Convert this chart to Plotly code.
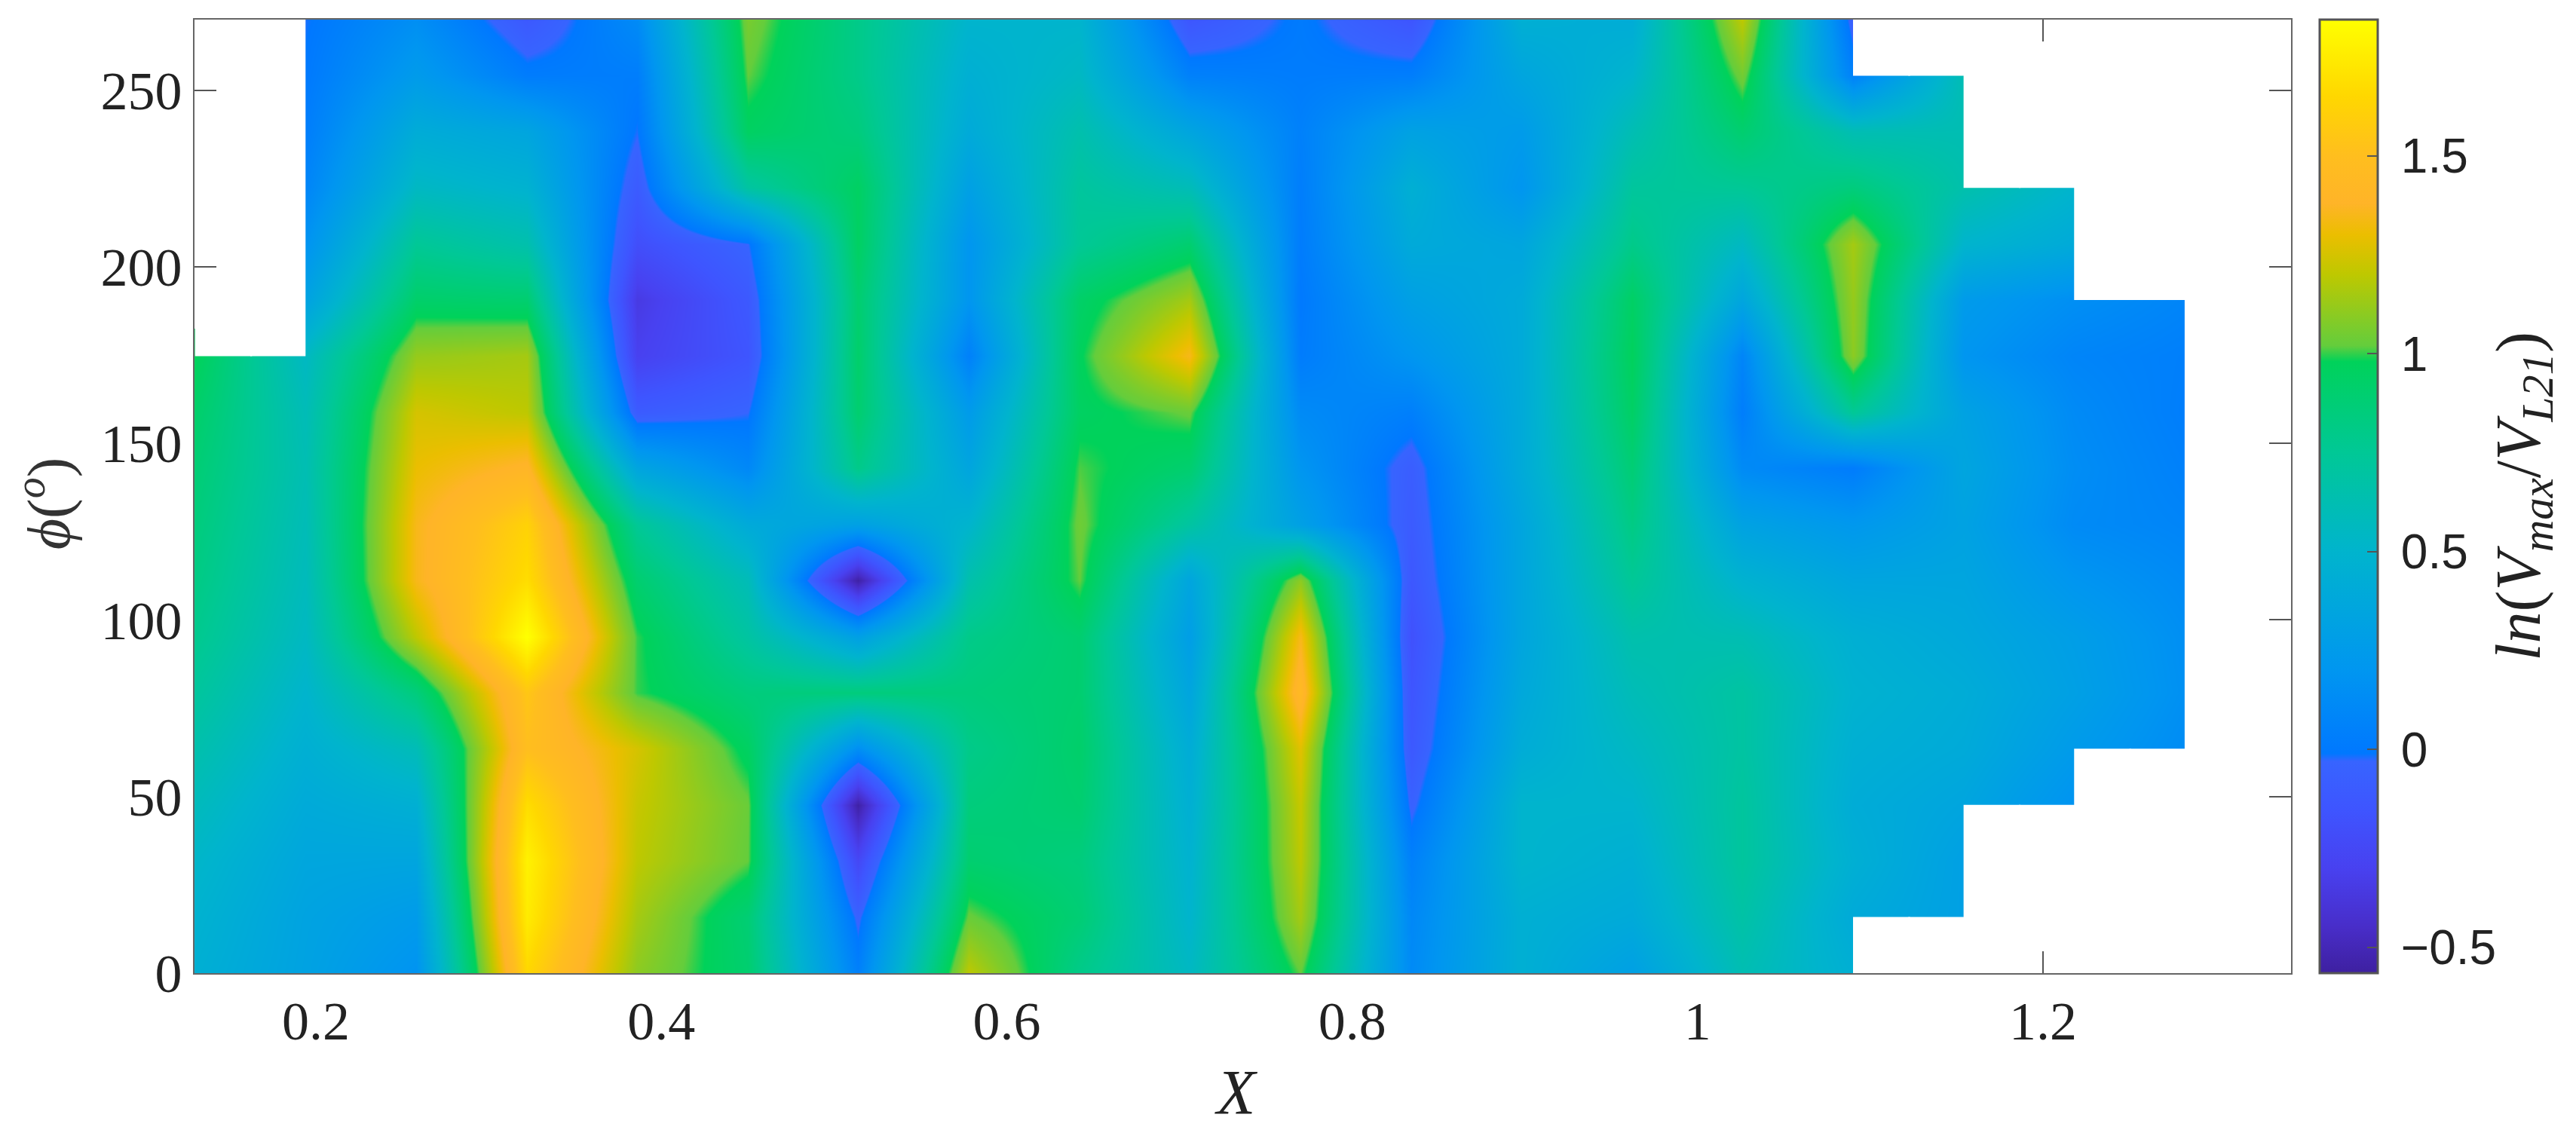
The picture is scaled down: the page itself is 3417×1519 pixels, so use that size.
import numpy as np
import plotly.graph_objects as go

# grid of the map
x_nodes = [0.13, 0.194, 0.258, 0.322, 0.386, 0.45, 0.514, 0.578, 0.642, 0.706,
           0.77, 0.834, 0.898, 0.962, 1.026, 1.09, 1.154, 1.218, 1.282]
phi_nodes = [0, 15.88, 31.76, 47.65, 63.53, 79.41, 95.29, 111.18, 127.06, 142.94,
             158.82, 174.71, 190.59, 206.47, 222.35, 238.24, 254.12, 270]

N = None
# ln(Vmax/VL21), one list per X value, phi going up
z_013 = [.45, .48, .52, .58, .65, .72, .78, .82, .85, .88, .92, .98, N, N, N, N, N, N]
z_019 = [.32, .33, .36, .4, .45, .5, .55, .58, .6, .62, .6, .55, .32, .18, .08, .03, 0, -.02]
z_026 = [.18, .25, .35, .45, .6, .85, 1.2, 1.35, 1.35, 1.3, 1.25, 1.12, .92, .75, .55, .42, .25, .15]
z_032 = [1.65, 1.75, 1.78, 1.68, 1.5, 1.55, 1.85, 1.68, 1.62, 1.4, 1.2, 1.15, .9, .65, .48, .35, .02, -.12]
z_039 = [1.1, 1.15, 1.2, 1.22, 1.25, 1.0, 1.0, .9, .75, .35, -.1, -.3, -.35, -.2, -.1, -.02, .03, .12]
z_045 = [.9, .88, 1.02, 1.03, .95, .85, .7, .6, .4, .1, -.03, -.15, -.12, -.03, .7, .95, 1.02, 1.06]
z_051 = [.05, -.05, -.25, -.55, .15, .85, .3, -.55, .3, .8, .9, .92, .9, .95, .95, .85, .8, .8]
z_058 = [1.2, 1.03, .9, .85, .8, .85, .8, .65, .5, .35, .25, .05, .2, .2, .3, .4, .45, .5]
z_064 = [.8, .88, .85, .9, .92, .9, .9, 1.02, 1.04, 1.01, .95, .97, .93, .75, .72, .65, .55, .5]
z_071 = [.55, .5, .48, .45, .42, .35, .28, .35, .7, .9, 1.03, 1.35, 1.15, .9, .6, .35, .05, -.14]
z_077 = [1.02, 1.15, 1.2, 1.22, 1.28, 1.45, 1.35, 1.1, .3, .2, .12, .02, 0, .02, .03, .05, .02, .01]
z_083 = [.12, .1, .05, -.05, -.12, -.15, -.18, -.13, -.1, -.08, .04, .2, .3, .4, .45, .32, .03, -.15]
z_090 = [.45, .45, .5, .5, .42, .38, .35, .35, .35, .4, .4, .4, .4, .35, .2, .25, .35, .45]
z_096 = [.3, .4, .45, .5, .55, .6, .65, .75, .82, .88, .94, .97, .94, .8, .72, .62, .5, .42]
z_103 = [.62, .68, .72, .72, .7, .7, .62, .48, .32, .12, .03, .08, .35, .55, .75, .9, 1.05, 1.2]
z_109 = [.45, .4, .45, .42, .45, .48, .45, .35, .22, .02, .75, 1.1, 1.12, 1.15, .85, .62, .05, -.08]
z_115 = [N, .3, .3, .35, .4, .42, .38, .35, .32, .35, .32, .2, .25, .5, .65, .62, .62, N]
z_122 = [N, N, N, .18, .25, .3, .28, .2, .12, .14, .12, .08, .15, .4, .5, N, N, N]
z_128 = [N, N, N, N, .13, .16, .15, .12, .08, .05, .03, .04, .08, N, N, N, N, N]

z_columns = [z_013, z_019, z_026, z_032, z_039, z_045, z_051, z_058, z_064, z_071,
             z_077, z_083, z_090, z_096, z_103, z_109, z_115, z_122, z_128]

x_ticks = [0.2, 0.4, 0.6, 0.8, 1, 1.2]
x_labels = ["0.2", "0.4", "0.6", "0.8", "1", "1.2"]
phi_ticks = [0, 50, 100, 150, 200, 250]
cbar_ticks = [-0.5, 0, 0.5, 1, 1.5]
cbar_labels = ["\u22120.5", "0", "0.5", "1", "1.5"]

z_min, z_max = -0.565, 1.844

# colormap stops, value -> colour
stops = [
    (-0.565, "rgb(62,32,160)"), (-0.45, "rgb(72,45,200)"), (-0.3, "rgb(72,65,240)"),
    (-0.15, "rgb(62,85,255)"), (-0.03, "rgb(55,100,255)"), (-0.01, "rgb(0,120,255)"),
    (0.2, "rgb(0,150,240)"), (0.5, "rgb(0,180,205)"), (0.75, "rgb(0,200,150)"),
    (0.98, "rgb(0,210,90)"), (1.02, "rgb(100,205,60)"), (1.2, "rgb(190,200,0)"),
    (1.3, "rgb(235,190,0)"), (1.38, "rgb(255,180,40)"), (1.5, "rgb(255,190,30)"),
    (1.65, "rgb(255,215,0)"), (1.844, "rgb(255,255,0)"),
]
colorscale = [[(v - z_min) / (z_max - z_min), c] for v, c in stops]

z = np.array(z_columns, dtype=float).T

fig = go.Figure(go.Heatmap(
    x=x_nodes, y=phi_nodes, z=z, zsmooth="best", zmin=z_min, zmax=z_max,
    colorscale=colorscale, hoverongaps=False,
    colorbar=dict(
        x=1.0137, xanchor="left", xpad=0, y=0, yanchor="bottom", ypad=0, len=1, lenmode="fraction",
        thickness=77, thicknessmode="pixels", outlinecolor="#555555", outlinewidth=3,
        ticks="inside", ticklen=15, tickwidth=2, tickcolor="#555555",
        tickvals=cbar_ticks, ticktext=["\u2005" + t for t in cbar_labels],
        tickfont=dict(family="Liberation Sans", size=64, color="#222222"),
    ),
))

# the heatmap overhangs its last nodes by half a step: blank that part so the
# missing cells end on the grid lines
dx = x_nodes[1] - x_nodes[0]
dphi = phi_nodes[1] - phi_nodes[0]
pad_x, pad_y = 0.001, 0.5
first = [next(i for i, v in enumerate(c) if v is not None) for c in z_columns]
last = [max(i for i, v in enumerate(c) if v is not None) for c in z_columns]


def blank(x0, x1, y0, y1):
    y0, y1 = max(y0, 0), min(y1, 270)
    if y1 > y0:
        fig.add_shape(type="rect", x0=x0, x1=x1, y0=y0, y1=y1, layer="above",
                      line_width=0, fillcolor="white")


for c in range(len(x_nodes) - 1):
    mid = (x_nodes[c] + x_nodes[c + 1]) / 2
    right = x_nodes[c + 1] + (pad_x if c > 0 else 0)
    top = phi_nodes[min(last[c], last[c + 1])]
    bottom = phi_nodes[max(first[c], first[c + 1])]
    blank(x_nodes[c], mid + pad_x, top, phi_nodes[last[c]] + dphi / 2 + pad_y)
    blank(mid, right, top, phi_nodes[last[c + 1]] + dphi / 2 + pad_y)
    blank(x_nodes[c], mid + pad_x, phi_nodes[first[c]] - dphi / 2 - pad_y, bottom)
    blank(mid, right, phi_nodes[first[c + 1]] - dphi / 2 - pad_y, bottom)
blank(x_nodes[-1], x_nodes[-1] + dx / 2 + pad_x, phi_nodes[first[-1]] - dphi / 2 - pad_y,
      phi_nodes[last[-1]] + dphi / 2 + pad_y)

serif = "Liberation Serif"
axis_style = dict(
    showgrid=False, zeroline=False, showline=True, mirror="allticks",
    linecolor="#666666", linewidth=2, ticks="inside", ticklen=29, tickwidth=2,
    tickcolor="#555555", layer="below traces",
    tickfont=dict(family=serif, size=72, color="#222222"),
)
fig.update_xaxes(range=[0.1297, 1.3436], tickvals=x_ticks, ticktext=x_labels, **axis_style)
fig.update_yaxes(range=[0, 270], tickvals=phi_ticks, **axis_style)

fig.update_layout(
    width=3417, height=1519, autosize=False, plot_bgcolor="white", paper_bgcolor="white",
    margin=dict(l=258, r=378, t=26, b=228),
    annotations=[
        dict(text="<i>X</i>", xref="paper", yref="paper", x=0.497, y=-0.125, yanchor="middle",
             showarrow=False, font=dict(family=serif, size=84, color="#222222")),
        dict(text="<i>\u03d5</i>(<i><sup>o</sup></i>)", xref="paper", yref="paper", x=-0.0712, y=0.493,
             xanchor="center", yanchor="middle", textangle=-90, showarrow=False,
             font=dict(family=serif, size=80, color="#333333")),
        dict(text="<i>ln</i>(<i>V<sub>max</sub></i>/<i>V<sub>L21</sub></i>)", xref="paper", yref="paper",
             x=1.1105, y=0.5, xanchor="center", yanchor="middle", textangle=-90, showarrow=False,
             font=dict(family=serif, size=84, color="#222222")),
    ],
)

fig.write_html("out.html", config=dict(displayModeBar=False),
               post_script="document.body.style.margin='0';")
